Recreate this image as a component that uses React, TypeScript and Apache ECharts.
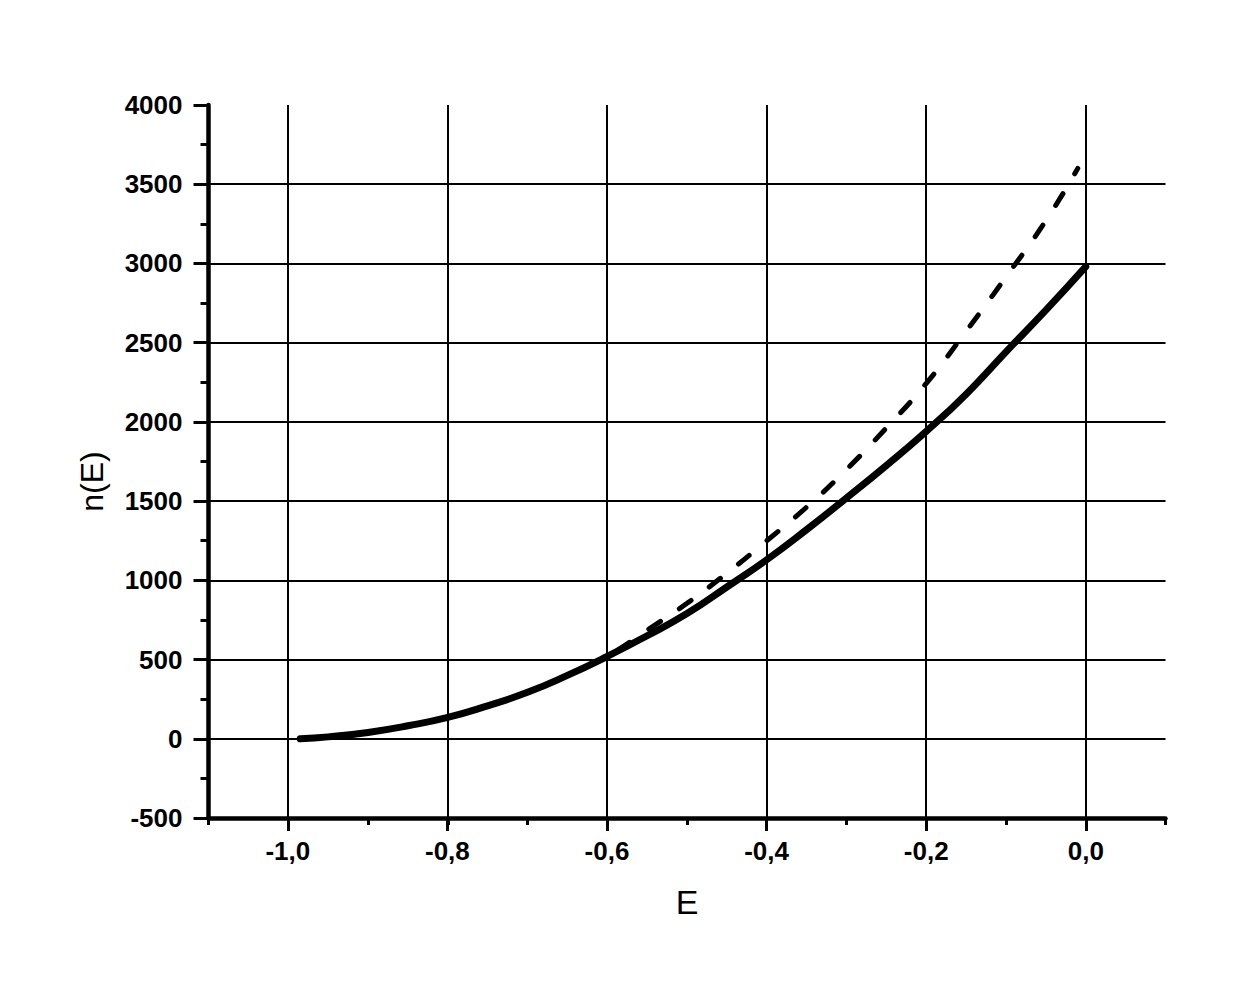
import React, { useEffect, useRef } from "react";
import * as echarts from "echarts";

// Solid curve n(E)
const E_SOLID = [-0.985, -0.95, -0.9, -0.85, -0.8, -0.75, -0.7, -0.65, -0.6, -0.55, -0.5, -0.45, -0.4, -0.35, -0.3, -0.25, -0.2, -0.15, -0.1, -0.05, 0.0];
const N_SOLID = [0, 12, 40, 82, 135, 208, 293, 400, 520, 650, 790, 958, 1130, 1320, 1520, 1725, 1940, 2175, 2442, 2705, 2980];

// Dashed curve n(E)
const E_DASHED = [-0.985, -0.95, -0.9, -0.85, -0.8, -0.75, -0.7, -0.65, -0.6, -0.55, -0.5, -0.45, -0.4, -0.35, -0.3, -0.25, -0.2, -0.15, -0.1, -0.05, -0.01];
const N_DASHED = [0, 12, 40, 82, 135, 208, 293, 400, 522, 685, 855, 1045, 1250, 1462, 1700, 1962, 2243, 2572, 2915, 3270, 3600];

// Axis ticks
const X_MIN = -1.1;
const X_MAX = 0.1;
const X_MINOR_STEP = 0.1;
const X_MAJOR_MIN = -1.0;
const X_MAJOR_MAX = 0.0;
const X_MAJOR_STEP = 0.2;
const Y_MIN = -500;
const Y_MAX = 4000;
const Y_STEP = 500;

const X_NAME = "E";
const Y_NAME = "n(E)";

const FONT = "'Liberation Sans', Arial, sans-serif";

export default function App() {
  const ref = useRef<HTMLDivElement>(null);

  useEffect(() => {
    if (!ref.current) return;
    const chart = echarts.init(ref.current, undefined, { renderer: "svg" });

    const fmtX = (v: number) => {
      const s = (Math.round(v * 10) / 10).toFixed(1).replace(".", ",");
      return s === "-0,0" ? "0,0" : s;
    };
    const fmtY = (v: number) => String(Math.round(v));

    const option: any = {
      animation: false,
      backgroundColor: "#ffffff",
      grid: [
        { left: 208.5, top: 105, width: 957, height: 713, containLabel: false },
        { left: 287.8, top: 105, width: 798, height: 713, containLabel: false },
      ],
      xAxis: [
        {
          type: "value",
          gridIndex: 0,
          min: X_MIN,
          max: X_MAX,
          interval: X_MINOR_STEP,
          name: X_NAME,
          nameLocation: "middle",
          nameGap: 67,
          nameTextStyle: { fontSize: 34, color: "#000", fontFamily: FONT },
          axisLine: { show: true, onZero: false, lineStyle: { color: "#000", width: 4.5 } },
          axisTick: { show: true, inside: false, length: 7, lineStyle: { color: "#000", width: 3 } },
          axisLabel: { show: false },
          splitLine: { show: false },
        },
        {
          type: "value",
          gridIndex: 1,
          min: X_MAJOR_MIN,
          max: X_MAJOR_MAX,
          interval: X_MAJOR_STEP,
          axisLine: { show: false, onZero: false },
          axisTick: { show: true, inside: false, length: 13, lineStyle: { color: "#000", width: 3 } },
          axisLabel: {
            show: true,
            margin: 20,
            fontSize: 26,
            fontWeight: "bold",
            color: "#000",
            fontFamily: FONT,
            formatter: fmtX,
          },
          splitLine: { show: true, lineStyle: { color: "#000", width: 2 } },
        },
      ],
      yAxis: [
        {
          type: "value",
          gridIndex: 0,
          min: Y_MIN,
          max: Y_MAX,
          interval: Y_STEP,
          name: Y_NAME,
          nameLocation: "middle",
          nameGap: 101,
          nameTextStyle: { fontSize: 32, color: "#000", fontFamily: FONT, padding: [0, 40, 0, 0] },
          axisLine: { show: true, onZero: false, lineStyle: { color: "#000", width: 4.5 } },
          axisTick: { show: true, inside: false, length: 15, lineStyle: { color: "#000", width: 3 } },
          minorTick: { show: true, splitNumber: 2, length: 8, lineStyle: { color: "#000", width: 3 } },
          axisLabel: {
            show: true,
            margin: 26,
            fontSize: 26,
            fontWeight: "bold",
            color: "#000",
            fontFamily: FONT,
            formatter: fmtY,
          },
          splitLine: { show: true, showMinLine: false, showMaxLine: false, lineStyle: { color: "#000", width: 2 } },
        },
        {
          type: "value",
          gridIndex: 1,
          min: Y_MIN,
          max: Y_MAX,
          show: false,
        },
      ],
      series: [
        {
          type: "line",
          xAxisIndex: 0,
          yAxisIndex: 0,
          data: E_DASHED.map((e, i) => [e, N_DASHED[i]]),
          showSymbol: false,
          symbol: "none",
          smooth: true,
          lineStyle: { color: "#000", width: 5, type: [14, 23], cap: "round" },
          z: 3,
        },
        {
          type: "line",
          xAxisIndex: 0,
          yAxisIndex: 0,
          data: E_SOLID.map((e, i) => [e, N_SOLID[i]]),
          showSymbol: false,
          symbol: "none",
          smooth: true,
          lineStyle: { color: "#000", width: 7, type: "solid", cap: "round", join: "round" },
          z: 4,
        },
      ],
    };

    chart.setOption(option);
    return () => chart.dispose();
  }, []);

  return (
    <div
      ref={ref}
      style={{ position: "absolute", left: 0, top: 0, width: 1250, height: 1000, background: "#fff" }}
    />
  );
}
